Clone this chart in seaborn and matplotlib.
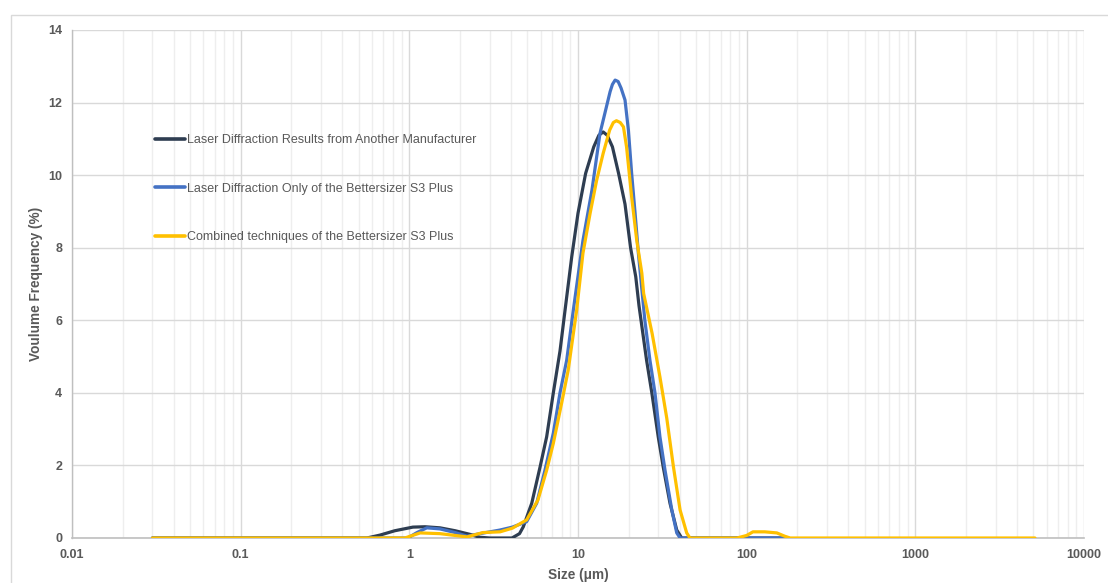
import numpy as np
import pandas as pd
import matplotlib
matplotlib.use("Agg")
import matplotlib.pyplot as plt
import seaborn as sns
from matplotlib.ticker import FixedLocator, FixedFormatter, LogLocator, NullFormatter
from matplotlib.patches import Rectangle

# ---- data -------------------------------------------------------------
series_names = [
    "Laser Diffraction Results from Another Manufacturer",
    "Laser Diffraction Only of the Bettersizer S3 Plus",
    "Combined techniques of the Bettersizer S3 Plus",
]
series_colors = ["#2E3D51", "#4472C4", "#FFC000"]

# particle size (µm) and volume frequency (%)
other_size = [0.03, 0.39, 0.56, 0.67, 0.82, 1.05, 1.24, 1.52, 1.87, 2.29, 2.62, 3.0,
              4.06, 4.5, 4.74, 5.32, 5.96, 6.52, 7.14, 7.82, 8.38, 9.18, 10.0, 11.1,
              12.4, 13.3, 14.1, 14.9, 16.0, 17.4, 19.0, 20.5, 22.0, 23.0, 25.5, 27.4,
              29.9, 32.0, 35.1, 38.5, 41.2, 176]
other_freq = [0, 0, 0, 0.08, 0.20, 0.30, 0.31, 0.28, 0.20, 0.10, 0.02, 0,
              0, 0.12, 0.31, 0.96, 1.96, 2.79, 4.00, 5.15, 6.28, 7.75, 8.95, 10.05,
              10.78, 11.10, 11.19, 11.10, 10.78, 10.05, 9.20, 8.00, 7.20, 6.40, 4.90, 4.00,
              2.79, 1.96, 0.96, 0.22, 0, 0]

s3_ld_size = [0.03, 0.98, 1.11, 1.27, 1.52, 1.87, 2.2, 2.62, 3.45, 4.08, 4.96, 5.69,
              6.37, 7.14, 7.82, 8.57, 9.38, 10.7, 12.1, 13.5, 15.5, 16.0, 16.6, 17.3,
              18.0, 19.0, 19.9, 20.8, 21.8, 22.8, 24.9, 26.7, 28.6, 30.6, 32.8, 36.0,
              38.5, 40.3, 176]
s3_ld_freq = [0, 0, 0.15, 0.28, 0.25, 0.15, 0.05, 0.12, 0.22, 0.30, 0.45, 0.96,
              1.87, 2.89, 4.00, 4.90, 6.28, 8.20, 9.59, 11.15, 12.30, 12.50, 12.62, 12.58,
              12.40, 12.07, 11.24, 10.05, 8.95, 7.85, 6.00, 4.90, 4.00, 2.79, 1.87, 0.77,
              0.14, 0, 0]

s3_comb_size = [0.03, 0.94, 1.16, 1.52, 1.87, 2.2, 2.73, 3.45, 4.08, 4.96, 5.79, 6.52,
                7.14, 8.0, 8.75, 9.82, 10.7, 11.8, 12.9, 14.1, 15.4, 16.2, 16.9, 17.8,
                18.6, 19.4, 20.8, 22.3, 23.9, 24.5, 27.5, 30.6, 33.6, 36.8, 40.3, 44.1,
                46.1, 87.7, 100, 109, 128, 151, 168, 181, 5120]
s3_comb_freq = [0, 0, 0.14, 0.12, 0.07, 0.03, 0.15, 0.17, 0.27, 0.50, 1.05, 1.87,
                2.61, 3.72, 4.63, 6.28, 7.85, 8.95, 9.86, 10.60, 11.24, 11.45, 11.50, 11.45,
                11.33, 10.78, 9.40, 8.20, 7.30, 6.74, 5.64, 4.44, 3.30, 1.96, 0.77, 0.14,
                0, 0, 0.07, 0.17, 0.17, 0.14, 0.05, 0, 0]

x_tick_values = [0.01, 0.1, 1, 10, 100, 1000, 10000]
x_tick_labels = ["0.01", "0.1", "1", "10", "100", "1000", "10000"]
y_tick_values = [0, 2, 4, 6, 8, 10, 12, 14]

df = pd.concat([
    pd.DataFrame({"size": other_size, "freq": other_freq, "series": series_names[0]}),
    pd.DataFrame({"size": s3_ld_size, "freq": s3_ld_freq, "series": series_names[1]}),
    pd.DataFrame({"size": s3_comb_size, "freq": s3_comb_freq, "series": series_names[2]}),
], ignore_index=True)

# ---- style ------------------------------------------------------------
sns.set_style("white")
plt.rcParams["font.family"] = ["Liberation Sans", "DejaVu Sans"]
text_color = "#595959"

fig = plt.figure(figsize=(11.08, 5.83), dpi=100)
ax = fig.add_axes([72 / 1108, 45 / 583, 1012 / 1108, 508 / 583])

sns.lineplot(data=df, x="size", y="freq", hue="series", hue_order=series_names,
             palette=series_colors, estimator=None, sort=False, linewidth=2.3,
             ax=ax, zorder=3)
for line in ax.get_lines():
    line.set_solid_joinstyle("round")
    line.set_solid_capstyle("round")

ax.set_xscale("log")
ax.set_xlim(0.01, 10000)
ax.set_ylim(0, 14)

ax.xaxis.set_major_locator(FixedLocator(x_tick_values))
ax.xaxis.set_major_formatter(FixedFormatter(x_tick_labels))
ax.xaxis.set_minor_locator(LogLocator(base=10, subs=np.arange(2, 10), numticks=50))
ax.xaxis.set_minor_formatter(NullFormatter())
ax.yaxis.set_major_locator(FixedLocator(y_tick_values))

ax.grid(which="major", axis="both", color="#d9d9d9", linewidth=1.0, zorder=0)
ax.grid(which="minor", axis="x", color="#eeeeee", linewidth=1.0, zorder=0)
ax.set_axisbelow(True)

for side in ["top", "right"]:
    ax.spines[side].set_visible(False)
ax.spines["left"].set_color("#bfbfbf")
ax.spines["bottom"].set_color("#bfbfbf")
ax.spines["left"].set_linewidth(1.0)
ax.spines["bottom"].set_linewidth(1.2)

ax.tick_params(axis="y", which="major", direction="out", length=3.5, width=0.8,
               color="#bfbfbf", pad=3.5, labelsize=9, labelcolor=text_color)
ax.tick_params(axis="x", which="both", length=0, pad=8, labelsize=9,
               labelcolor=text_color)
for lbl in ax.get_xticklabels() + ax.get_yticklabels():
    lbl.set_fontweight("bold")

ax.set_xlabel("Size (μm)", fontsize=9.8, fontweight="bold", color=text_color, labelpad=5)
ax.set_ylabel("Voulume Frequency (%)", fontsize=9.8, fontweight="bold", color=text_color,
              labelpad=4)

handles, labels = ax.get_legend_handles_labels()
leg = ax.legend(handles, labels, loc="upper left", bbox_to_anchor=(0.082, 0.795),
                frameon=False, borderpad=0, borderaxespad=0, handlelength=2.4,
                handletextpad=0.15, labelspacing=2.92, prop={"size": 9})
for t in leg.get_texts():
    t.set_color(text_color)
for h in leg.legend_handles:
    h.set_linewidth(2.6)

# light frame around the chart area
fig.add_artist(Rectangle((10.5 / 1108, -0.05), 1.2, 1.05 - 14.5 / 583,
                         transform=fig.transFigure, fill=False,
                         edgecolor="#d9d9d9", linewidth=1.0))

fig.savefig("out.png", dpi=100, facecolor="white")
